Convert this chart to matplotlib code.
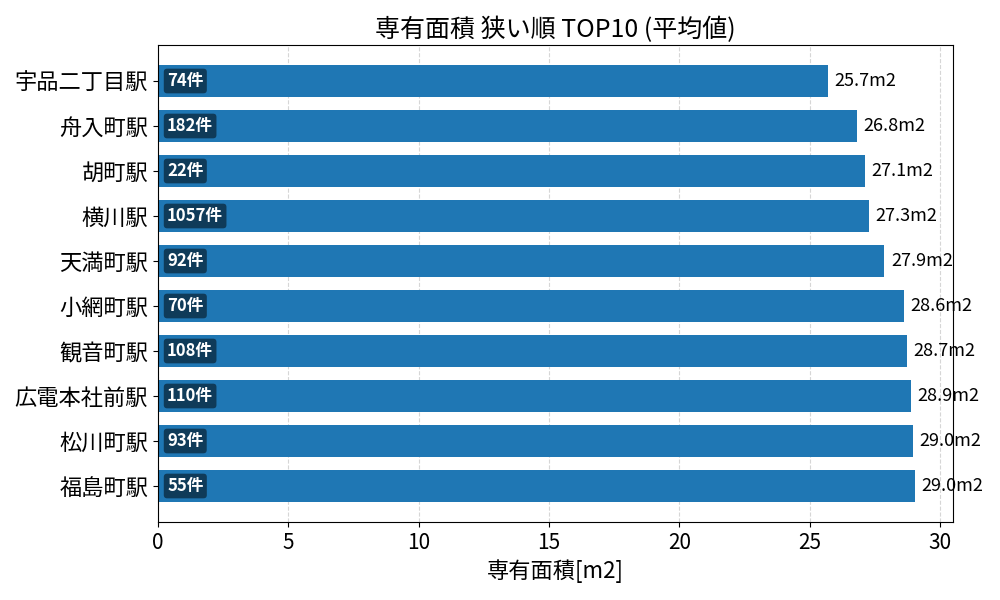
import matplotlib
matplotlib.use("Agg")
import matplotlib.pyplot as plt

plt.rcParams['font.family'] = ['Noto Sans CJK JP', 'DejaVu Sans']

stations = ["宇品二丁目駅", "舟入町駅", "胡町駅", "横川駅", "天満町駅", "小網町駅",
            "観音町駅", "広電本社前駅", "松川町駅", "福島町駅"]
areas = [25.7, 26.81, 27.12, 27.27, 27.87, 28.62, 28.74, 28.88, 28.96, 29.04]
counts = [74, 182, 22, 1057, 92, 70, 108, 110, 93, 55]

fig = plt.figure(figsize=(10, 6), dpi=100)
ax = fig.add_axes([0.158, 0.13, 0.795, 0.795])

y = list(range(len(stations)))
ax.barh(y, areas, height=0.7, color='#1f77b4', zorder=2)
ax.set_yticks(y)
ax.set_yticklabels(stations, fontsize=16)
ax.set_xlim(0, 30.5)
ax.set_ylim(9.8, -0.8)
ax.tick_params(axis='x', labelsize=15)
ax.grid(axis='x', linestyle='--', color='#cccccc', alpha=0.8, linewidth=0.8, zorder=0)
ax.set_axisbelow(True)

for yi, a, c in zip(y, areas, counts):
    ax.text(a + 0.25, yi, f"{a:.1f}m2", va='center', ha='left', fontsize=13, zorder=3)
    ax.text(0.35, yi, f"{c}件", va='center', ha='left', fontsize=12, color='white',
            fontweight='bold', zorder=3,
            bbox=dict(boxstyle='round,pad=0.2', facecolor='black', alpha=0.5, edgecolor='none'))

ax.set_title("専有面積 狭い順 TOP10 (平均値)", fontsize=18)
ax.set_xlabel("専有面積[m2]", fontsize=16)

fig.savefig("out.png", dpi=100)
